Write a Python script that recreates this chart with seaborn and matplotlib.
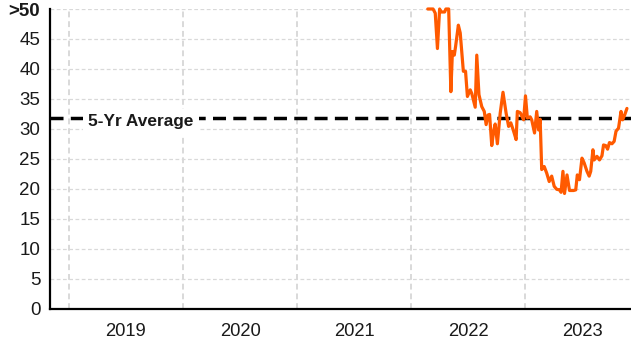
import matplotlib
matplotlib.use("Agg")
import matplotlib.pyplot as plt
import pandas as pd
import seaborn as sns

# Weekly readings (values above 50 are capped at 50 and shown as ">50")
dates = [
    "2022-02-23", "2022-03-12", "2022-03-19", "2022-03-26", "2022-04-02",
    "2022-04-06", "2022-04-11", "2022-04-18", "2022-04-22", "2022-05-01",
    "2022-05-08", "2022-05-13", "2022-05-19", "2022-05-23", "2022-06-01",
    "2022-06-07", "2022-06-17", "2022-06-24", "2022-06-30", "2022-07-09",
    "2022-07-14", "2022-07-25", "2022-07-30", "2022-08-06", "2022-08-15",
    "2022-08-23", "2022-08-29", "2022-09-04", "2022-09-09", "2022-09-16",
    "2022-09-22", "2022-09-27", "2022-10-04", "2022-10-13", "2022-10-22",
    "2022-11-01", "2022-11-09", "2022-11-16", "2022-11-25", "2022-12-03",
    "2022-12-07", "2022-12-16", "2022-12-27", "2023-01-02", "2023-01-08",
    "2023-01-17", "2023-01-22", "2023-01-31", "2023-02-07", "2023-02-13",
    "2023-02-18", "2023-02-23", "2023-03-03", "2023-03-11", "2023-03-19",
    "2023-03-27", "2023-04-04", "2023-04-12", "2023-04-21", "2023-04-26",
    "2023-05-02", "2023-05-07", "2023-05-15", "2023-05-23", "2023-06-05",
    "2023-06-12", "2023-06-17", "2023-06-24", "2023-07-02", "2023-07-09",
    "2023-07-18", "2023-07-25", "2023-07-30", "2023-08-06", "2023-08-10",
    "2023-08-19", "2023-08-27", "2023-09-04", "2023-09-09", "2023-09-16",
    "2023-09-22", "2023-09-28", "2023-10-06", "2023-10-13", "2023-10-19",
    "2023-10-27", "2023-11-04", "2023-11-09", "2023-11-15", "2023-11-23",
]
values = [
    50.0, 50.0, 49.3, 43.4, 50.0,
    49.5, 49.5, 49.5, 50.0, 50.0,
    36.2, 42.9, 42.3, 43.7, 47.3,
    46.0, 39.6, 39.6, 35.4, 36.5,
    35.9, 33.6, 42.3, 35.7, 33.7,
    32.9, 30.7, 32.3, 32.4, 27.2,
    29.6, 30.8, 27.5, 32.6, 36.1,
    32.6, 30.4, 31.0, 29.6, 28.2,
    32.9, 32.7, 31.5, 35.5, 31.8,
    32.0, 31.5, 29.3, 32.9, 29.8,
    31.6, 23.2, 23.7, 22.6, 21.2,
    22.1, 20.4, 19.9, 19.8, 19.4,
    22.9, 19.2, 22.3, 19.7, 19.7,
    19.8, 22.3, 21.5, 25.1, 24.3,
    22.9, 22.1, 22.9, 26.5, 24.8,
    25.4, 24.8, 25.5, 27.3, 27.2,
    26.6, 27.7, 27.5, 27.9, 29.6,
    30.1, 32.9, 31.5, 32.2, 33.4,
]
five_yr_avg = 31.8
avg_label = "5-Yr Average"
years = [2019, 2020, 2021, 2022, 2023]
y_ticks = [0, 5, 10, 15, 20, 25, 30, 35, 40, 45, 50]
y_labels = ["0", "5", "10", "15", "20", "25", "30", "35", "40", "45", ">50"]

sns.set_theme(style="white")
plt.rcParams["font.family"] = ["Liberation Sans", "DejaVu Sans"]

fig = plt.figure(figsize=(6.31, 3.41), dpi=100)
ax = fig.add_axes([50 / 631, 32.5 / 341, 581 / 631, 299.5 / 341])

df = pd.DataFrame({"date": pd.to_datetime(dates), "value": values})
sns.lineplot(data=df, x="date", y="value", ax=ax, color="#FF5A00",
             linewidth=2.3, clip_on=False, zorder=4)

ax.set_xlim(pd.Timestamp("2018-11-01"), pd.Timestamp("2023-12-06"))
ax.set_ylim(0, 50)

# Year separators as long light ticks, year names centred between them
ax.set_xticks([pd.Timestamp(f"{y}-01-01") for y in years])
ax.set_xticklabels([""] * len(years))
ax.set_xticks([pd.Timestamp(f"{y}-07-02") for y in years], minor=True)
ax.set_xticklabels([str(y) for y in years], minor=True)
ax.tick_params(axis="x", which="major", length=24, width=1.5,
               color="#d6d6d6", direction="out")
ax.tick_params(axis="x", which="minor", length=0, pad=10.5,
               labelsize=13.2, labelcolor="#1a1a1a")

ax.set_yticks(y_ticks)
ax.set_yticklabels(y_labels)
ax.tick_params(axis="y", length=0, pad=7, labelsize=13.5, labelcolor="#1a1a1a")
ax.get_yticklabels()[-1].set_fontweight("bold")

ax.grid(axis="y", color="#d9d9d9", linestyle=(0, (3, 2)), linewidth=0.9)
ax.grid(axis="x", which="major", color="#d9d9d9", linestyle=(0, (3, 2)),
        linewidth=1.4)
ax.set_axisbelow(True)

for side in ("top", "right"):
    ax.spines[side].set_visible(False)
for side in ("left", "bottom"):
    ax.spines[side].set_color("black")
    ax.spines[side].set_linewidth(1.6)

ax.set_xlabel("")
ax.set_ylabel("")

ax.axhline(five_yr_avg, color="black", linewidth=2.5,
           linestyle=(0, (3.75, 2.1)), zorder=3)
ax.text(pd.Timestamp("2019-03-04"), five_yr_avg - 0.55, avg_label,
        fontsize=12.4, fontweight="bold", color="#1a1a1a",
        ha="left", va="center", zorder=3.5,
        bbox=dict(boxstyle="square,pad=0.3", facecolor="white",
                  edgecolor="none"))

fig.savefig("out.png", dpi=100)
